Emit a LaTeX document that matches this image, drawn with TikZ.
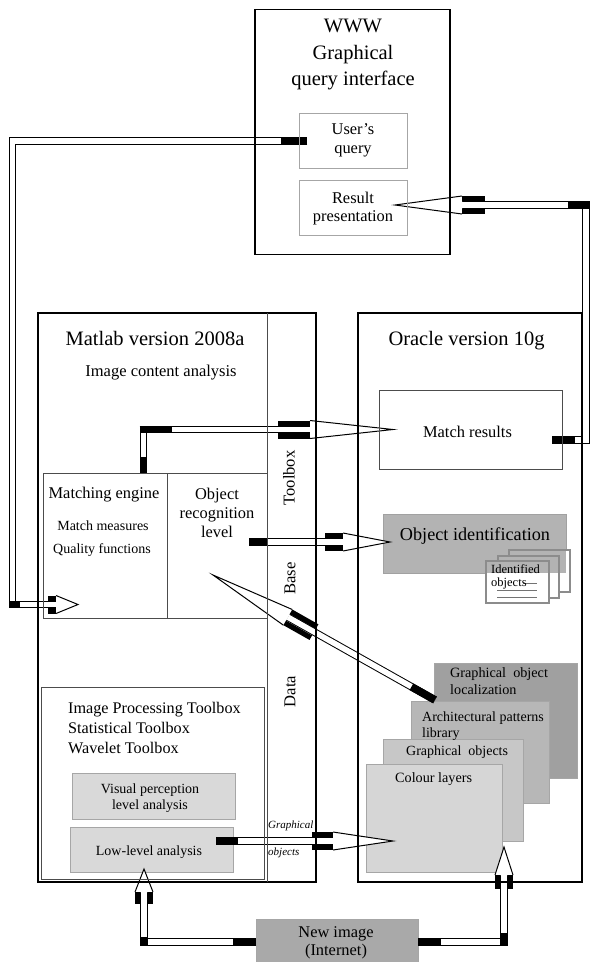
\documentclass[tikz,border=0pt]{standalone}
\usepackage{fontspec}
\setmainfont{Liberation Serif}
\usetikzlibrary{calc}
\newcommand\fs[1]{\fontsize{#1}{#1}\selectfont}
\definecolor{oig}{HTML}{B3B3B3}
\definecolor{locg}{HTML}{A0A0A0}
\definecolor{archg}{HTML}{B7B7B7}
\definecolor{gobg}{HTML}{C7C7C7}
\definecolor{clg}{HTML}{D6D6D6}
\definecolor{lightg}{HTML}{D9D9D9}
\definecolor{nig}{HTML}{A9A9A9}
% rectangle node: style, x1, y1, x2, y2, name
\newcommand\rect[6]{\node[#1, anchor=north west, inner sep=0pt, outer sep=0pt,
  minimum width={#4-#2}, minimum height={#5-#3}] (#6) at (#2,#3) {};}
% hollow arrow head: tip, angle, head length, shoulder length
\newcommand\pipehead[4]{%
  \begin{scope}[shift={(#1)}, rotate=#2, x=1pt, y=1pt]
    \fill[white] (0,0) -- (-#3,9) -- (-#3,-9) -- cycle;
    \fill[black] (-#3,3.8) rectangle (-#3-#4,9);
    \fill[black] (-#3,-3.8) rectangle (-#3-#4,-9);
    \draw[line width=1pt, line join=miter] (-#3,9) -- (0,0) -- (-#3,-9);
  \end{scope}}
% identified-object page: x1 y1 x2 y2 name
\newcommand\pagebox[5]{%
  \begin{scope}
    \clip (#1,#2) rectangle (#3,#4);
    \fill[white] (#1,#2) rectangle (#3,#4);
    \fill[oig] (oi.north west) rectangle (oi.south east);
  \end{scope}
  \rect{draw=black!45, line width=1.3pt}{#1}{#2}{#3}{#4}{#5}}
\tikzset{
  pipe/.style={draw=black, line width=1pt, double=white, double distance=5.6pt, line join=miter},
  band/.style={draw=black, line width=7.6pt},
  frame/.style={draw=black, line width=1.1pt},
  thinbox/.style={draw=black!35, line width=0.8pt},
  darkbox/.style={draw=black!70, line width=0.9pt},
  layer/.style={draw=black!35, line width=0.6pt},
  lbl/.style={inner sep=0pt, anchor=base},
  lbll/.style={inner sep=0pt, anchor=base west},
}
\begin{document}
\begin{tikzpicture}[x=1pt,y=-1pt]
\useasboundingbox (0,0) rectangle (590,962);
\fill[white] (0,0) rectangle (590,962);

% ---------- filled boxes ----------
\rect{fill=oig, draw=oig!90!black, line width=0.5pt}{383}{514}{566}{573}{oi}
\pagebox{509}{550}{570}{592}{pg3}
\pagebox{498}{556}{559}{598}{pg2}
\pagebox{486}{561}{549}{603}{pg1}
\draw[black!55, line width=0.8pt] (523,583) -- (537,583);
\draw[black!55, line width=0.8pt] (497,590) -- (537,590);
\draw[black!55, line width=0.8pt] (497,597) -- (537,597);

\rect{fill=locg, layer}{434}{663}{577}{778}{loc}
\rect{fill=archg, layer}{411}{701}{549}{803}{arch}
\rect{fill=gobg, layer}{383}{739}{523}{841}{gob}
\rect{fill=clg, layer}{366}{764}{502}{872}{cl}

\rect{fill=lightg, layer}{72}{773}{235}{819}{vp}
\rect{fill=lightg, layer}{70}{827}{233}{872}{ll}
\rect{fill=nig, layer}{256}{919}{418}{964}{ni}

% ---------- unfilled boxes (positions needed for coordinates) ----------
\rect{thinbox}{299}{113}{407}{168}{uq}
\rect{thinbox}{299}{180}{407}{235}{rp}
\rect{darkbox}{43}{473}{267}{618}{me}
\rect{darkbox}{379}{390}{562}{469}{mr}

% ---------- connector coordinates ----------
\coordinate (a0) at ($(uq.west)+(8,0.5)$);
\coordinate (a1) at (12.5,141);
\coordinate (a2) at (12.5,604.5);
\coordinate (atip) at (78,604.5);

\coordinate (b0) at ($(me.north west)+(100.5,0)$);
\coordinate (b1) at (143.5,429.5);
\coordinate (btip) at (393,429.5);

\coordinate (c0) at (249,542);
\coordinate (ctip) at (390,542);

\coordinate (d0) at (435,700);
\coordinate (dtip) at (213,575);

\coordinate (e0) at (216,841);
\coordinate (etip) at (393,841);

\coordinate (f0) at (256,942);
\coordinate (f1) at (144,942);
\coordinate (ftip) at (144,869);

\coordinate (g0) at (418,942);
\coordinate (g1) at (504,942);
\coordinate (gtip) at (504,847);

\coordinate (h0) at (552,440);
\coordinate (h1) at (586,440);
\coordinate (h2) at (586,205);
\coordinate (htip) at (395,205);

% ---------- pipes ----------
% user's query -> matching engine
\draw[pipe] (a0) -- (a1) -- (a2) -- ($(atip)+(-22,0)$);
\draw[band] (a0) -- ++(-26,0);
\fill ($(a2)+(-3.8,-3.8)$) rectangle ($(a2)+(7.5,3.8)$);
\pipehead{atip}{0}{22}{8}

% matching engine -> match results
\draw[pipe] (b0) -- (b1) -- ($(btip)+(-83,0)$);
\draw[band] (b0) -- ++(0,-16);
\draw[band] ($(b1)+(-3.8,0)$) -- ++(32,0);
\pipehead{btip}{0}{83}{32}

% object recognition -> object identification
\draw[pipe] (c0) -- ($(ctip)+(-47,0)$);
\draw[band] (c0) -- ++(18,0);
\pipehead{ctip}{0}{47}{18}

% graphical object localization -> object recognition
\draw[pipe] (d0) -- ($(dtip)!86pt!(d0)$);
\draw[band] (d0) -- ($(d0)!27pt!(dtip)$);
\pipehead{dtip}{150.5}{86}{30}

% low-level analysis -> colour layers
\draw[pipe] (e0) -- ($(etip)+(-60,0)$);
\draw[band] (e0) -- ++(22,0);
\pipehead{etip}{0}{60}{21}

% new image -> low-level analysis
\draw[pipe] (f0) -- (f1) -- ($(ftip)+(0,23)$);
\draw[band] (f0) -- ++(-23,0);
\fill ($(f1)+(-3.8,-5)$) rectangle ($(f1)+(3.8,3.8)$);
\pipehead{ftip}{90}{23}{12}

% new image -> colour layers
\draw[pipe] (g0) -- (g1) -- ($(gtip)+(0,28)$);
\draw[band] (g0) -- ++(23,0);
\fill ($(g1)+(-3.8,-9)$) rectangle ($(g1)+(3.8,3.8)$);
\pipehead{gtip}{90}{28}{14}

% match results -> result presentation
\draw[pipe] (h0) -- (h1) -- (h2) -- ($(htip)+(67,0)$);
\draw[band] (h0) -- ++(23,0);
\draw[band] ($(h2)+(3.8,0)$) -- ++(-22,0);
\pipehead{htip}{180}{67}{23}

% ---------- outline boxes on top ----------
\rect{frame}{255}{9.5}{450}{254.5}{www}
\rect{thinbox}{299}{113}{407}{168}{uq2}
\rect{thinbox}{299}{180}{407}{235}{rp2}
\rect{frame}{38}{313}{316}{882}{matlab}
\draw[darkbox] ($(matlab.north east)+(-49,0)$) -- ($(matlab.south east)+(-49,0)$);
\rect{darkbox}{43}{473}{267}{618}{me2}
\draw[darkbox] ($(me.north west)+(124,0)$) -- ($(me.south west)+(124,0)$);
\rect{darkbox}{41}{687}{264}{879}{iptb}
\rect{frame}{358}{313}{582}{882}{oracle}
\rect{darkbox}{379}{390}{562}{469}{mr2}

% ---------- texts ----------
\node[lbl, font=\fs{20.5}] (twww) at (353,32) {WWW};
\node[lbl, font=\fs{20.5}] (tgr) at (353,59) {Graphical};
\node[lbl, font=\fs{20.5}] (tqi) at (353,85) {query interface};
\node[lbl, font=\fs{16.4}] (tus) at (353,134) {User's};
\node[lbl, font=\fs{16.4}] (tqu) at (353,153) {query};
\node[lbl, font=\fs{16.4}] (tre) at (353,203) {Result};
\node[lbl, font=\fs{16.4}] (tpr) at (353,221) {presentation};

\node[lbl, font=\fs{20.5}] (tml) at (155,345) {Matlab version 2008a};
\node[lbl, font=\fs{16.5}] (tica) at (161,376) {Image content analysis};
\node[lbl, font=\fs{16.4}] (tmen) at (104,498) {Matching engine};
\node[lbl, font=\fs{14}] (tmm) at (103,530) {Match measures};
\node[lbl, font=\fs{14}] (tqf) at (102,553) {Quality functions};
\node[lbl, font=\fs{16.4}] (tob) at (217,499) {Object};
\node[lbl, font=\fs{16.4}] (trec) at (217,518) {recognition};
\node[lbl, font=\fs{16.4}] (tlev) at (217,537) {level};
\node[rotate=90, inner sep=0pt, font=\fs{16.6}] (ttb) at (289,478) {Toolbox};
\node[rotate=90, inner sep=0pt, font=\fs{16.6}] (tba) at (290,578.5) {Base};
\node[rotate=90, inner sep=0pt, font=\fs{16.6}] (tda) at (290,691.5) {Data};

\node[lbll, font=\fs{16.2}] (tipt) at (68,713) {Image Processing Toolbox};
\node[lbll, font=\fs{16.2}] (tst) at (68,733) {Statistical Toolbox};
\node[lbll, font=\fs{16.2}] (twv) at (68,753) {Wavelet Toolbox};
\node[lbl, font=\fs{14}] (tvp) at (150,793) {Visual perception};
\node[lbl, font=\fs{14}] (tlva) at (150,809) {level analysis};
\node[lbl, font=\fs{14}] (tlla) at (149,855) {Low-level analysis};
\node[lbll, font=\fs{11}\itshape] (tgo1) at (268,828) {Graphical};
\node[lbll, font=\fs{11}\itshape] (tgo2) at (268,855) {objects};

\node[lbl, font=\fs{20.5}] (tor) at (466.5,345) {Oracle version 10g};
\node[lbl, font=\fs{16.4}] (tmr) at (467.5,437) {Match results};
\node[lbl, font=\fs{18.2}] (toi) at (475,540) {Object identification};
\node[lbll, font=\fs{12.5}] (tid) at (491,573) {Identified};
\node[lbll, font=\fs{12.5}] (tido) at (491,586) {objects};

\node[lbll, font=\fs{14.2}] (tloc1) at (450,677) {Graphical\ \ object};
\node[lbll, font=\fs{14.2}] (tloc2) at (450,694) {localization};
\node[lbll, font=\fs{14}] (tarc1) at (422,721) {Architectural patterns};
\node[lbll, font=\fs{14}] (tarc2) at (422,737) {library};
\node[lbll, font=\fs{14}] (tgob) at (406,755) {Graphical\ \ objects};
\node[lbll, font=\fs{14.2}] (tcl) at (395,782) {Colour layers};

\node[lbl, font=\fs{16.4}] (tni1) at (336,937) {New image};
\node[lbl, font=\fs{16.4}] (tni2) at (336,955) {(Internet)};
\end{tikzpicture}
\end{document}
